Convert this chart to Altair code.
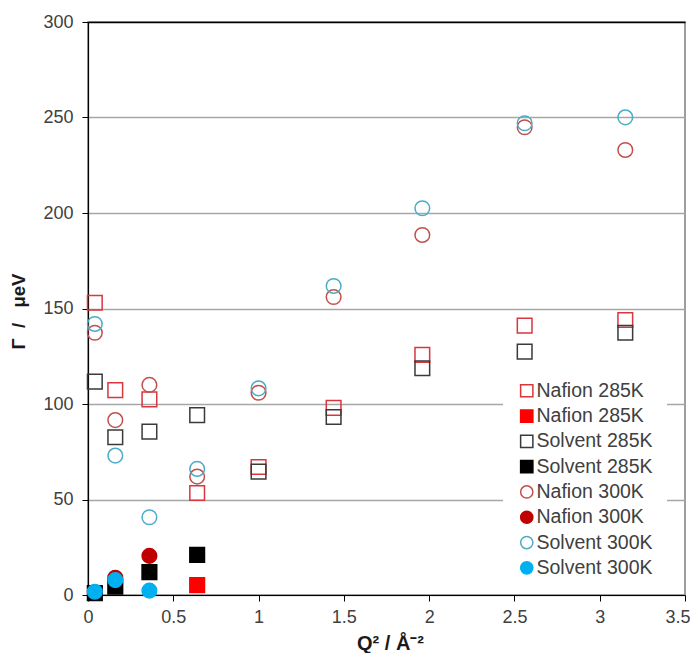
import altair as alt
import pandas as pd

# Q^2 values (Å^-2)
q2 = [0.04, 0.16, 0.36, 0.64, 1.0, 1.44, 1.96, 2.56, 3.15]

# open-symbol series (Γ / μeV)
nafion_285_open = [153, 107.3, 102.4, 53.4, 67, 98, 125.7, 141, 144]
solvent_285_open = [111.7, 82.6, 85.5, 94.2, 64.6, 93.2, 118.7, 127.4, 137.3]
nafion_300_open = [137.3, 91.6, 110, 62, 105.9, 156, 188.5, 244.9, 233]
solvent_300_open = [141.9, 73, 40.7, 66, 108.2, 161.8, 202.5, 247, 250.1]

# filled-symbol series
nafion_285_fill_x = [0.64]
nafion_285_fill_y = [5.2]
solvent_285_fill_x = [0.04, 0.16, 0.36, 0.64]
solvent_285_fill_y = [1, 4.4, 12, 21]
nafion_300_fill_x = [0.16, 0.36]
nafion_300_fill_y = [9, 20.5]
solvent_300_fill_x = [0.04, 0.16, 0.36]
solvent_300_fill_y = [1.7, 7.8, 2.3]

keys = ["1 Nafion 285K", "2 Nafion 285K", "3 Solvent 285K", "4 Solvent 285K",
        "5 Nafion 300K", "6 Nafion 300K", "7 Solvent 300K", "8 Solvent 300K"]
shapes = ["square", "square", "square", "square", "circle", "circle", "circle", "circle"]
fills = ["transparent", "#ff0000", "transparent", "#000000",
         "transparent", "#c00000", "transparent", "#00b0f0"]
strokes = ["#d9363e", "#ff0000", "#3a3a3a", "#000000",
           "#c0504d", "#c00000", "#4bacc6", "#00b0f0"]

series = [
    (keys[0], q2, nafion_285_open),
    (keys[1], nafion_285_fill_x, nafion_285_fill_y),
    (keys[2], q2, solvent_285_open),
    (keys[3], solvent_285_fill_x, solvent_285_fill_y),
    (keys[4], q2, nafion_300_open),
    (keys[5], nafion_300_fill_x, nafion_300_fill_y),
    (keys[6], q2, solvent_300_open),
    (keys[7], solvent_300_fill_x, solvent_300_fill_y),
]
rows = []
for i, (k, xs, ys) in enumerate(series):
    for x, y in zip(xs, ys):
        rows.append({"key": k, "order": i, "q2": x, "gamma": y})
df = pd.DataFrame(rows)

legend = alt.Legend(
    title=None, orient="none", legendX=415, legendY=345,
    fillColor="white", padding=14, rowPadding=4.3,
    labelFontSize=19.5, labelColor="#404040", labelFont="Liberation Sans",
    labelExpr="substring(datum.label, 2)", labelOffset=0,
    symbolSize=150, symbolStrokeWidth=1.5, symbolOpacity=1,
)

grid_color = {"condition": {"test": "datum.value === 300", "value": "#000000"},
              "value": "#a6a6a6"}

NB = "\u00a0"

chart = alt.Chart(df).mark_point(filled=True, size=215, strokeWidth=1.5, opacity=1).encode(
    x=alt.X("q2:Q", scale=alt.Scale(domain=[0, 3.5], nice=False, zero=False),
            axis=alt.Axis(values=[0, 0.5, 1, 1.5, 2, 2.5, 3, 3.5], format="~g", grid=False,
                          labelFlush=True, labelFlushOffset=5,
                          domainColor="#000000", domainWidth=1.2, tickColor="#000000",
                          tickSize=6, labelFontSize=18, labelColor="#404040",
                          labelPadding=7, labelFont="Liberation Sans",
                          title="Q²" + NB + "/" + NB + "Å⁻²", titleFontSize=20,
                          titleFontWeight="bold",
                          titleColor="#1a1a1a", titleFont="Liberation Sans",
                          titleY=38, titleX=302)),
    y=alt.Y("gamma:Q", scale=alt.Scale(domain=[0, 300], nice=False),
            axis=alt.Axis(values=[0, 50, 100, 150, 200, 250, 300], grid=True,
                          labelFlush=False,
                          gridColor=grid_color, gridWidth=1.3,
                          domainColor="#000000", domainWidth=1.2, tickColor="#000000",
                          tickSize=6, labelFontSize=18, labelColor="#404040",
                          labelPadding=9, labelFont="Liberation Sans",
                          title="Γ" + NB * 2 + "/" + NB * 3 + "μeV", titleFontSize=18.5,
                          titleFontWeight="bold",
                          titleColor="#1a1a1a", titleFont="Liberation Sans",
                          titleX=-60, titleY=289)),
    shape=alt.Shape("key:N", scale=alt.Scale(domain=keys, range=shapes), legend=legend),
    fill=alt.Fill("key:N", scale=alt.Scale(domain=keys, range=fills), legend=legend),
    stroke=alt.Stroke("key:N", scale=alt.Scale(domain=keys, range=strokes), legend=legend),
    order=alt.Order("order:Q"),
).properties(
    width=597, height=573,
    autosize=alt.AutoSizeParams(type="none"),
    padding={"left": 80, "top": 14, "right": 6, "bottom": 58},
).configure_view(
    stroke="#7f7f7f", strokeWidth=1.5
)

chart.save("out.html", embed_options={"renderer": "svg", "actions": False})
